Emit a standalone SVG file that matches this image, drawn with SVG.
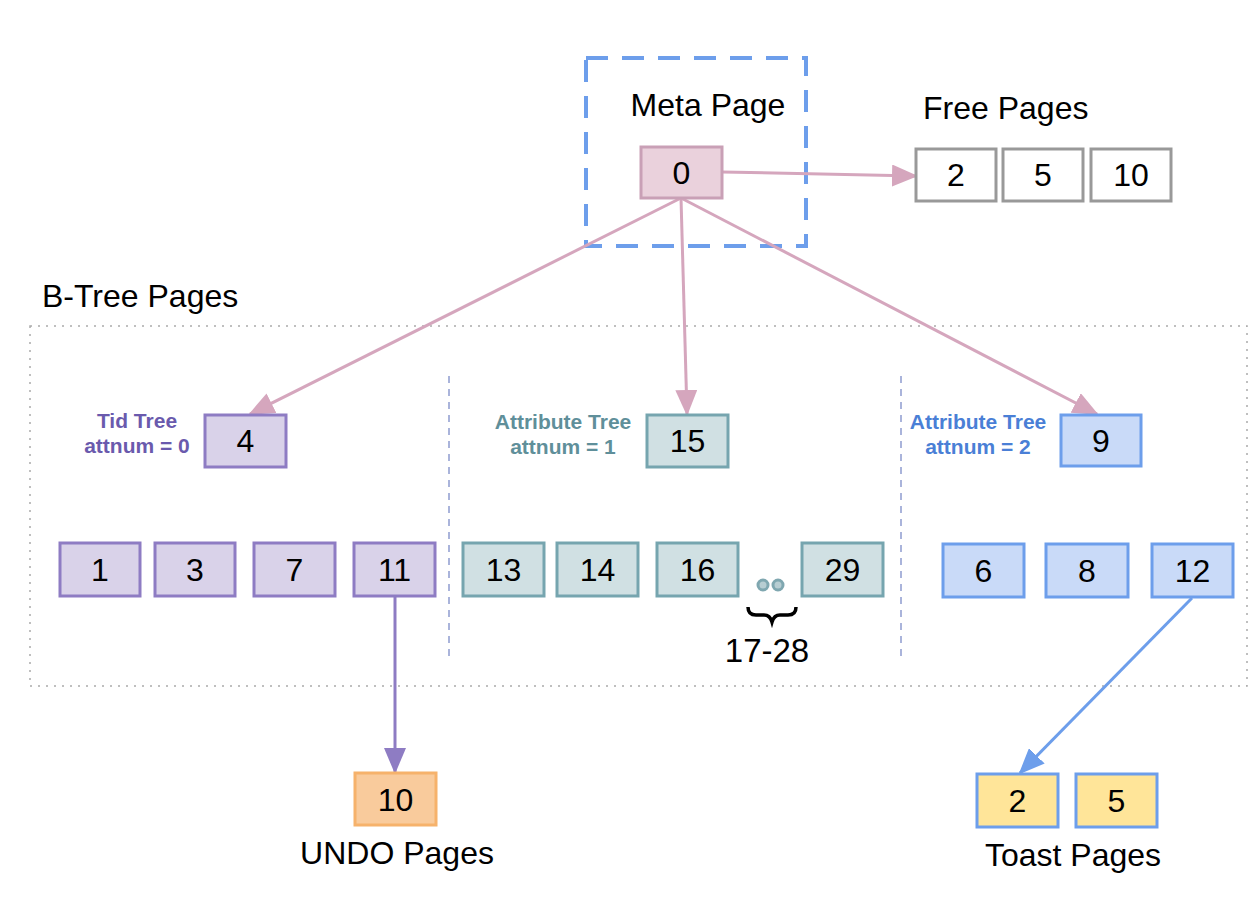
<svg xmlns="http://www.w3.org/2000/svg" width="1256" height="916" viewBox="0 0 1256 916">
<defs>
<style>
text{font-family:"Liberation Sans",Arial,sans-serif;fill:#000}
.num{font-size:32px;text-anchor:middle}
.lbl{font-size:32px}
.tl{font-size:21px;font-weight:bold;text-anchor:middle}
.pg{stroke-width:3}
.purple{fill:#d9d2e9;stroke:#8e7cc3}
.teal{fill:#d0e0e3;stroke:#76a5af}
.blue{fill:#c9daf8;stroke:#6d9eeb}
.free{fill:#fff;stroke:#999}
.meta{fill:#ead1dc;stroke:#c9a0b6}
.undo{fill:#f9cb9c;stroke:#f6b26b}
.toast{fill:#ffe599;stroke:#6d9eeb}
.edge{fill:none;stroke-width:3}
</style>
<marker id="ahPink" markerUnits="userSpaceOnUse" markerWidth="26" markerHeight="22" viewBox="0 0 26 22" refX="24" refY="11" orient="auto"><path d="M0,0 L26,11 L0,22 z" fill="#d5a6bd"/></marker>
<marker id="ahPurple" markerUnits="userSpaceOnUse" markerWidth="26" markerHeight="22" viewBox="0 0 26 22" refX="24" refY="11" orient="auto"><path d="M0,0 L26,11 L0,22 z" fill="#8e7cc3"/></marker>
<marker id="ahBlue" markerUnits="userSpaceOnUse" markerWidth="26" markerHeight="22" viewBox="0 0 26 22" refX="24" refY="11" orient="auto"><path d="M0,0 L26,11 L0,22 z" fill="#6d9eeb"/></marker>
</defs>
<rect width="1256" height="916" fill="#fff"/>

<!-- containers -->
<g id="btree-container">
<rect x="30" y="326" width="1217" height="360" fill="none" stroke="#aaa" stroke-width="1.5" stroke-dasharray="2 6"/>
<text class="lbl" x="42" y="307">B-Tree Pages</text>
<line x1="449" y1="376" x2="449" y2="657" stroke="#8e9ccf" stroke-width="1.5" stroke-dasharray="7 6"/>
<line x1="901" y1="376" x2="901" y2="657" stroke="#8e9ccf" stroke-width="1.5" stroke-dasharray="7 6"/>
</g>
<g id="meta-container">
<rect x="586" y="58" width="220" height="188" fill="none" stroke="#6d9eeb" stroke-width="4" stroke-dasharray="22 14"/>
<text class="lbl" x="708" y="116" text-anchor="middle">Meta Page</text>
</g>

<!-- connectors -->
<g id="connectors">
<line class="edge" x1="722" y1="172" x2="916" y2="176" stroke="#d5a6bd" marker-end="url(#ahPink)"/>
<line class="edge" x1="681" y1="198" x2="250" y2="414" stroke="#d5a6bd" marker-end="url(#ahPink)"/>
<line class="edge" x1="681" y1="198" x2="687" y2="414" stroke="#d5a6bd" marker-end="url(#ahPink)"/>
<line class="edge" x1="681" y1="198" x2="1097" y2="414" stroke="#d5a6bd" marker-end="url(#ahPink)"/>
<line class="edge" x1="395" y1="597" x2="395" y2="772" stroke="#8e7cc3" marker-end="url(#ahPurple)"/>
<line class="edge" x1="1192" y1="598" x2="1020" y2="773" stroke="#6d9eeb" marker-end="url(#ahBlue)"/>
</g>

<g id="node-meta-0"><rect class="pg meta" x="641" y="147" width="81" height="51"/><text class="num" x="681.5" y="184">0</text></g>

<g id="free-pages">
<text class="lbl" x="923" y="119">Free Pages</text>
<g id="free-2"><rect class="pg free" x="916" y="149" width="80" height="52"/><text class="num" x="956" y="186">2</text></g>
<g id="free-5"><rect class="pg free" x="1003" y="149" width="80" height="52"/><text class="num" x="1043" y="186">5</text></g>
<g id="free-10"><rect class="pg free" x="1091" y="149" width="80" height="52"/><text class="num" x="1131" y="186">10</text></g>
</g>

<!-- tid tree -->
<g id="tid-root">
<text class="tl" x="137" y="428" style="fill:#6a5aad">Tid Tree</text>
<text class="tl" x="137" y="453" style="fill:#6a5aad">attnum = 0</text>
<rect class="pg purple" x="205" y="415" width="81" height="52"/><text class="num" x="245.5" y="452">4</text>
</g>
<g id="tid-1"><rect class="pg purple" x="60" y="543" width="80" height="53"/><text class="num" x="100" y="581">1</text></g>
<g id="tid-3"><rect class="pg purple" x="155" y="543" width="80" height="53"/><text class="num" x="195" y="581">3</text></g>
<g id="tid-7"><rect class="pg purple" x="254" y="543" width="81" height="53"/><text class="num" x="294.5" y="581">7</text></g>
<g id="tid-11"><rect class="pg purple" x="354" y="543" width="81" height="53"/><text class="num" x="394.5" y="581">11</text></g>

<!-- attribute tree 1 -->
<g id="attr1-root">
<text class="tl" x="563" y="429" style="fill:#5f8f9a">Attribute Tree</text>
<text class="tl" x="563" y="454" style="fill:#5f8f9a">attnum = 1</text>
<rect class="pg teal" x="647" y="415" width="81" height="52"/><text class="num" x="687.5" y="452">15</text>
</g>
<g id="attr1-13"><rect class="pg teal" x="463" y="543" width="81" height="53"/><text class="num" x="503.5" y="581">13</text></g>
<g id="attr1-14"><rect class="pg teal" x="557" y="543" width="81" height="53"/><text class="num" x="597.5" y="581">14</text></g>
<g id="attr1-16"><rect class="pg teal" x="657" y="543" width="81" height="53"/><text class="num" x="697.5" y="581">16</text></g>
<g id="attr1-29"><rect class="pg teal" x="802" y="543" width="81" height="53"/><text class="num" x="842.5" y="581">29</text></g>
<g id="attr1-ellipsis">
<circle cx="763" cy="585" r="5" fill="#b7cdd2" stroke="#7fa7b0" stroke-width="3"/>
<circle cx="778" cy="585" r="5" fill="#b7cdd2" stroke="#7fa7b0" stroke-width="3"/>
<path d="M748,607 q0,8 8,8 h8 q6,0 8,7 q2,-7 8,-7 h8 q8,0 8,-8" fill="none" stroke="#000" stroke-width="3.5"/>
<text class="num" x="767" y="662" style="font-size:33px">17-28</text>
</g>

<!-- attribute tree 2 -->
<g id="attr2-root">
<text class="tl" x="978" y="429" style="fill:#4a7fd6">Attribute Tree</text>
<text class="tl" x="978" y="454" style="fill:#4a7fd6">attnum = 2</text>
<rect class="pg blue" x="1061" y="415" width="80" height="51"/><text class="num" x="1101" y="452">9</text>
</g>
<g id="attr2-6"><rect class="pg blue" x="943" y="544" width="81" height="53"/><text class="num" x="983.5" y="582">6</text></g>
<g id="attr2-8"><rect class="pg blue" x="1046" y="544" width="82" height="53"/><text class="num" x="1087" y="582">8</text></g>
<g id="attr2-12"><rect class="pg blue" x="1152" y="544" width="81" height="53"/><text class="num" x="1192.5" y="582">12</text></g>

<!-- undo -->
<g id="undo-10">
<rect class="pg undo" x="355" y="773" width="81" height="52"/><text class="num" x="395.5" y="811">10</text>
<text class="lbl" x="397" y="864" text-anchor="middle">UNDO Pages</text>
</g>

<!-- toast -->
<g id="toast-pages">
<g id="toast-2"><rect class="pg toast" x="977" y="774" width="81" height="53"/><text class="num" x="1017.5" y="812">2</text></g>
<g id="toast-5"><rect class="pg toast" x="1076" y="774" width="81" height="53"/><text class="num" x="1116.5" y="812">5</text></g>
<text class="lbl" x="1073" y="866" text-anchor="middle">Toast Pages</text>
</g>
</svg>
